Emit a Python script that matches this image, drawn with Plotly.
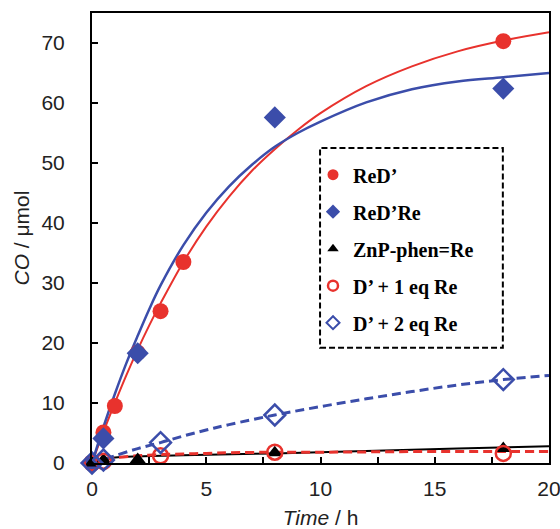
import plotly.graph_objects as go

RED = "#E8322D"
BLUE = "#3B4DAA"
BLACK = "#000000"

# ---- measured points ----
t_red = [0, 0.5, 1, 2, 3, 4, 18]
y_red = [0, 5.1, 9.5, 18.4, 25.3, 33.5, 70.3]

t_blue = [0, 0.5, 2, 8, 18]
y_blue = [0, 4.1, 18.3, 57.6, 62.4]

t_znp = [0, 0.5, 2, 8, 18]
y_znp = [0, 0.5, 0.6, 1.7, 2.4]

t_d1 = [0, 0.5, 3, 8, 18]
y_d1 = [0, 0.3, 1.2, 1.8, 1.6]

t_d2 = [0, 0.5, 3, 8, 18]
y_d2 = [0, 0.5, 3.4, 8.0, 13.9]

# ---- fitted curves ----
t_fit = [0, 0.5, 1, 1.5, 2, 2.5, 3, 4, 5, 6, 7, 8, 9, 10, 12, 14, 16, 18, 20]
fit_red = [0, 5.2, 10.0, 14.6, 18.9, 22.9, 26.6, 33.5, 39.4, 44.4, 48.7, 52.3, 55.5, 58.3, 62.8, 66.1, 68.6, 70.4, 71.8]
fit_blue = [0, 6.0, 11.5, 16.6, 21.2, 25.6, 29.6, 36.3, 41.7, 46.1, 49.7, 52.7, 55.0, 56.9, 60.1, 62.3, 63.6, 64.3, 65.0]

t_dash = [0, 0.5, 1, 2, 3, 4, 5, 6, 8, 10, 12, 14, 16, 18, 20]
fit_d2 = [0, 0.6, 1.2, 2.4, 3.4, 4.5, 5.5, 6.4, 8.0, 9.4, 10.7, 11.9, 13.0, 13.9, 14.6]
fit_d1 = [0, 0.6, 0.9, 1.2, 1.4, 1.5, 1.6, 1.7, 1.8, 1.8, 1.85, 1.9, 1.9, 1.9, 1.9]

t_znp_fit = [0, 0.5, 1, 2, 4, 8, 12, 16, 20]
fit_znp = [0, 0.6, 0.9, 1.1, 1.3, 1.6, 2.0, 2.4, 2.8]

x_ticks = [0, 5, 10, 15, 20]
y_ticks = [0, 10, 20, 30, 40, 50, 60, 70]

series_names = ["ReD’", "ReD’Re", "ZnP-phen=Re", "D’ + 1 eq Re", "D’ + 2 eq Re"]

fig = go.Figure()

# curves
fig.add_trace(go.Scatter(x=t_fit, y=fit_red, mode="lines", line=dict(color=RED, width=2, shape="spline"), showlegend=False))
fig.add_trace(go.Scatter(x=t_fit, y=fit_blue, mode="lines", line=dict(color=BLUE, width=2.5, shape="spline"), showlegend=False))
fig.add_trace(go.Scatter(x=t_znp_fit, y=fit_znp, mode="lines", line=dict(color=BLACK, width=2, shape="spline"), showlegend=False))
fig.add_trace(go.Scatter(x=t_dash, y=fit_d1, mode="lines", line=dict(color=RED, width=3, dash="9px,5px", shape="spline"), showlegend=False))
fig.add_trace(go.Scatter(x=t_dash, y=fit_d2, mode="lines", line=dict(color=BLUE, width=3, dash="9px,5px", shape="spline"), showlegend=False))

# markers (data)
plot_markers = [
    dict(symbol="circle", size=16, color=RED),
    dict(symbol="diamond", size=17, color=BLUE),
    dict(symbol="triangle-up", size=14, color=BLACK),
    dict(symbol="circle-open", size=15, color=RED, line=dict(width=2.5, color=RED)),
    dict(symbol="diamond-open", size=16, color=BLUE, line=dict(width=2.5, color=BLUE)),
]
legend_markers = [
    dict(symbol="circle", size=11, color=RED),
    dict(symbol="diamond", size=11, color=BLUE),
    dict(symbol="triangle-up", size=10, color=BLACK),
    dict(symbol="circle-open", size=10, color=RED, line=dict(width=2.5, color=RED)),
    dict(symbol="diamond-open", size=10, color=BLUE, line=dict(width=2, color=BLUE)),
]
data_t = [t_red, t_blue, t_znp, t_d1, t_d2]
data_y = [y_red, y_blue, y_znp, y_d1, y_d2]

for i in range(5):
    fig.add_trace(go.Scatter(x=data_t[i], y=data_y[i], mode="markers", name=series_names[i],
                             marker=plot_markers[i], showlegend=False, cliponaxis=False))
for i in range(5):
    fig.add_trace(go.Scatter(x=[None], y=[None], mode="markers", name=series_names[i],
                             legendgroup=f"g{i}", marker=legend_markers[i], showlegend=True))

fig.add_shape(type="rect", xref="paper", yref="paper", x0=0.499, x1=0.899, y0=0.256, y1=0.700,
              line=dict(color="black", width=2, dash="6px,3px"), fillcolor="rgba(0,0,0,0)")

axis_common = dict(showline=True, linecolor="black", linewidth=2, mirror=True, showgrid=False,
                   zeroline=False, ticks="inside", ticklen=6, tickwidth=1.5, tickcolor="black",
                   automargin=False, ticklabeloverflow="allow",
                   tickfont=dict(family="Liberation Sans", size=21, color="#222"))

fig.update_xaxes(range=[0, 20], tickvals=x_ticks, ticklabelstandoff=6,
                 minor=dict(dtick=2.5, ticks="inside", ticklen=6, tickwidth=1.5, tickcolor="black"),
                 title=dict(text="<i>Time</i> / h", font=dict(family="Liberation Sans", size=21, color="#222"), standoff=15),
                 **axis_common)
fig.update_yaxes(range=[0, 75], tickvals=y_ticks, ticklabelstandoff=21,
                 title=dict(text="<i>CO</i> / μmol", font=dict(family="Liberation Sans", size=21, color="#222"), standoff=6),
                 **axis_common)

fig.update_layout(
    width=560, height=529,
    margin=dict(l=92, r=11, t=13, b=66),
    paper_bgcolor="white", plot_bgcolor="white",
    legend=dict(x=0.4836, y=0.684, xanchor="left", yanchor="top",
                bgcolor="rgba(0,0,0,0)", borderwidth=0, tracegroupgap=8,
                font=dict(family="Liberation Serif", size=20, color="black", weight="bold")),
)

# remove the browser's default 8px body margin so the 560x529 figure fills the window
fig.write_html("out.html", config={"displayModeBar": False},
               post_script="document.body.style.margin='0';document.body.style.overflow='hidden';")
